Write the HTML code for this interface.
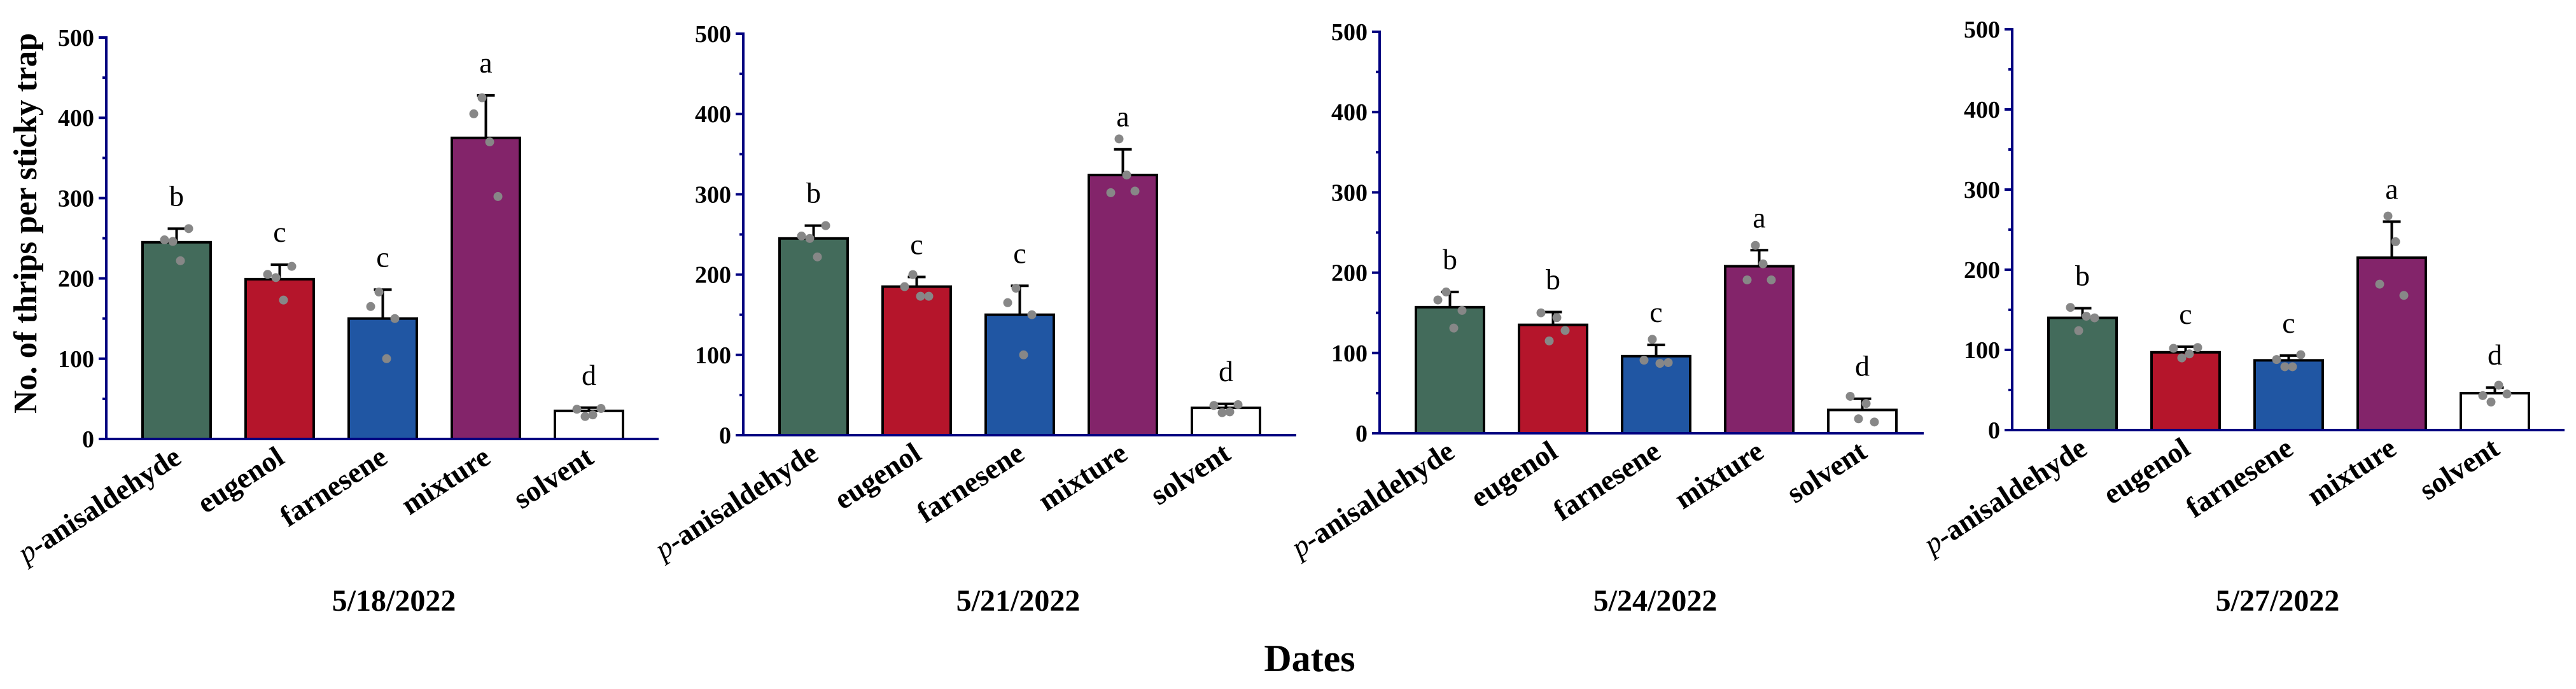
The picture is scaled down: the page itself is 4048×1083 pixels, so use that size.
<!DOCTYPE html>
<html><head><meta charset="utf-8"><style>
html,body{margin:0;padding:0;background:#fff}
svg{display:block}
text{font-family:"Liberation Serif",serif}
</style></head><body>
<svg id="chart" width="4048" height="1083" viewBox="0 0 4048 1083" xmlns="http://www.w3.org/2000/svg">
<text transform="translate(57,351) rotate(-90)" text-anchor="middle" font-size="52" font-weight="bold" textLength="598" lengthAdjust="spacingAndGlyphs">No. of thrips per sticky trap</text>
<text x="2058" y="1055" text-anchor="middle" font-size="60" font-weight="bold">Dates</text>
</svg>
<script>
const categories = ["anisaldehyde","eugenol","farnesene","mixture","solvent"];
const dates = ["5/18/2022","5/21/2022","5/24/2022","5/27/2022"];
const yTicks = [0,100,200,300,400,500];
const means1 = [245,199,150,375,35];
const means2 = [245,185,150,324,34];
const means3 = [157,135,96,208,29];
const means4 = [140,97,87,215,46];
const errTop1 = [262,217,186,428,39];
const errTop2 = [261,197,186,356,39];
const errTop3 = [176,151,110,228,43];
const errTop4 = [152,104,93,260,53];
const points1 = [[248,246,222,262],[205,201,173,215],[165,183,100,150],[405,425,370,302],[37,28,30,38]];
const points2 = [[248,245,222,261],[185,200,173,173],[165,183,100,150],[302,369,324,304],[37,28,29,38]];
const points3 = [[166,176,131,153],[150,115,144,128],[91,117,87,88],[191,234,211,191],[46,18,37,14]];
const points4 = [[153,124,142,140],[102,90,95,103],[88,79,79,94],[182,267,235,168],[43,35,56,45]];
const letters1 = ["b","c","c","a","d"];
const letters2 = ["b","c","c","a","d"];
const letters3 = ["b","b","c","a","d"];
const letters4 = ["b","c","c","a","d"];

const means=[means1,means2,means3,means4], errs=[errTop1,errTop2,errTop3,errTop4],
      pts=[points1,points2,points3,points4], lets=[letters1,letters2,letters3,letters4];
const layout=[{ax:167,top:59,base:690,end:1035,dx:619},{ax:1168,top:53,base:684,end:2037,dx:1600},
              {ax:2168,top:50,base:681,end:3023,dx:2601},{ax:3162,top:46,base:676,end:4030,dx:3579}];
const colors=["#436b5b","#b5152b","#2056a3","#83246a","#ffffff"];
const jit=[-19,-6,6,19];
const NS="http://www.w3.org/2000/svg";
const svg=document.getElementById("chart");
function mk(tag,attrs,parent,txt){const e=document.createElementNS(NS,tag);for(const k in attrs)e.setAttribute(k,attrs[k]);if(txt!==undefined)e.textContent=txt;(parent||svg).appendChild(e);return e;}

layout.forEach((L,p)=>{
  const g=mk("g",{});
  
  
  const y=v=>L.base-(v/500)*(L.base-L.top);
  const cx=i=>L.ax+55+55.5+i*162;
  categories.forEach((c,i)=>{
    const r=mk("rect",{x:cx(i)-53.5,y:y(means[p][i]),width:107,height:L.base-y(means[p][i]),fill:colors[i],stroke:"#000","stroke-width":4},g);
    
    
    const eb=mk("path",{d:`M${cx(i)} ${y(means[p][i])}V${y(errs[p][i])}M${cx(i)-14} ${y(errs[p][i])}H${cx(i)+14}`,stroke:"#000","stroke-width":4,fill:"none"},g);
    
    
    pts[p][i].forEach((v,k)=>{
      const d=mk("circle",{cx:cx(i)+jit[k],cy:y(v),r:7,fill:"#878787"},g);
      
      
    });
    const t=mk("text",{x:cx(i),y:y(errs[p][i])-36,"text-anchor":"middle","font-size":46},g,lets[p][i]);
    
    
    const lx=cx(i)+10, ly=L.base+36;
    const lab=mk("text",{transform:`translate(${lx},${ly}) rotate(-33)`,"text-anchor":"end","font-size":46,"font-weight":"bold"},g);
    
    
    if(i===0){mk("tspan",{"font-style":"italic","font-weight":"normal"},lab,"p");mk("tspan",{},lab,"-"+c);}
    else lab.textContent=c;
  });
  const ya=mk("line",{x1:L.ax,y1:L.top-2,x2:L.ax,y2:L.base+2,stroke:"#000080","stroke-width":4},g);
  
  
  const xa=mk("line",{x1:L.ax-12,y1:L.base,x2:L.end,y2:L.base,stroke:"#000080","stroke-width":4},g);
  
  
  yTicks.forEach(v=>{
    mk("line",{x1:L.ax-12,y1:y(v),x2:L.ax,y2:y(v),stroke:"#000080","stroke-width":4},g);
    const tl=mk("text",{x:L.ax-19,y:y(v)+13,"text-anchor":"end","font-size":38,"font-weight":"bold"},g,String(v));
    
    
    if(v<500) mk("line",{x1:L.ax-6,y1:y(v+50),x2:L.ax,y2:y(v+50),stroke:"#000080","stroke-width":4},g);
  });
  const dt=mk("text",{x:L.dx,y:960,"text-anchor":"middle","font-size":48,"font-weight":"bold"},g,dates[p]);
  
  
});
</script>
</body></html>
